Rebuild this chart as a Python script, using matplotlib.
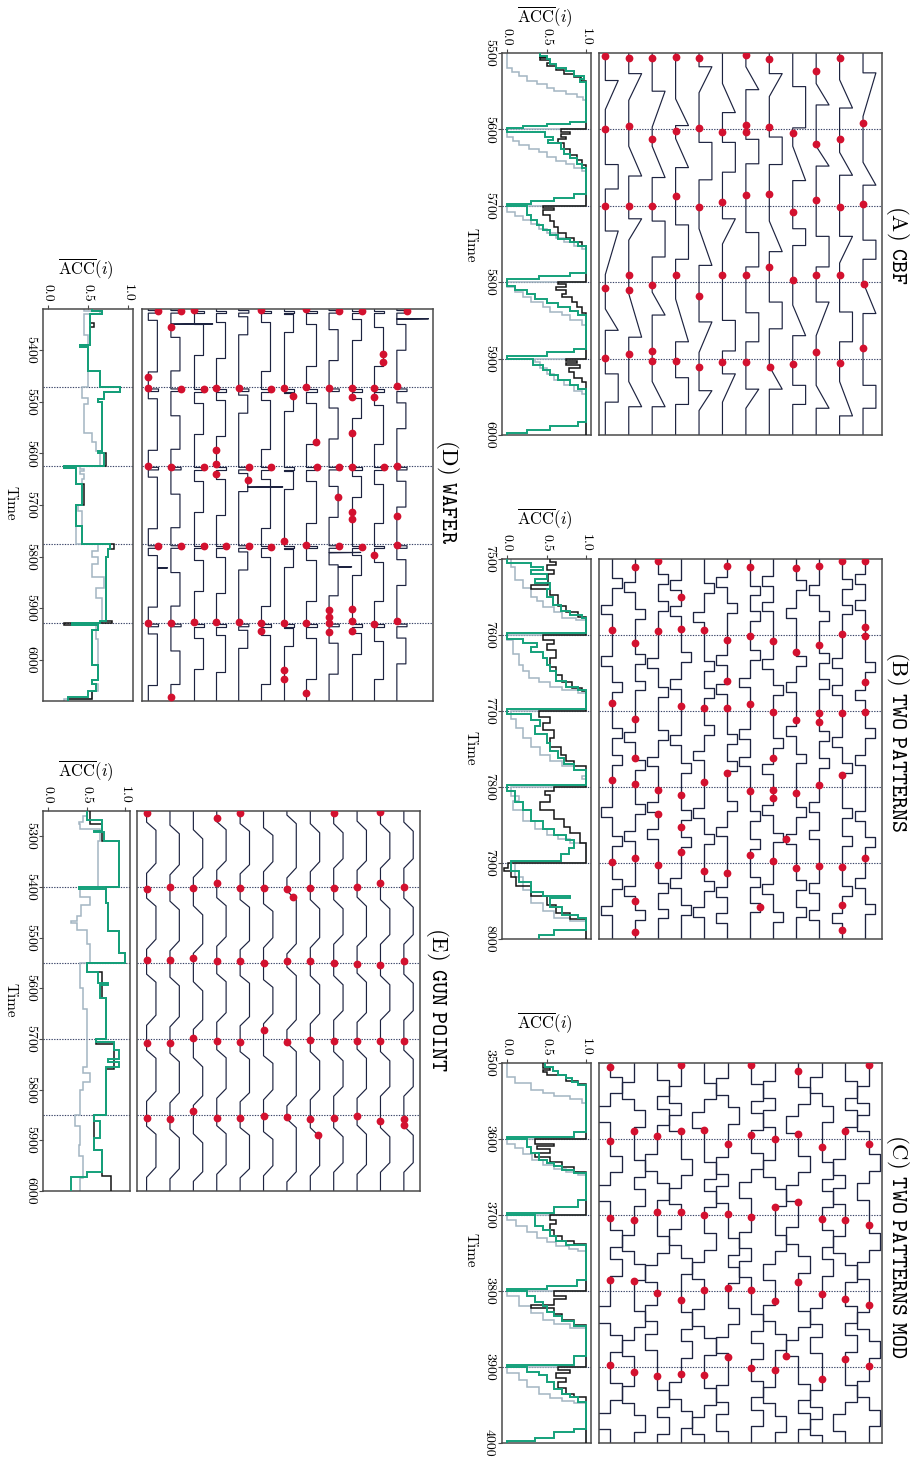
import numpy as np
import matplotlib
matplotlib.use("Agg")
import matplotlib.pyplot as plt

plt.rcParams.update({
    "font.family": "cmr10",
    "mathtext.fontset": "cm",
    "axes.formatter.use_mathtext": True,
    "axes.unicode_minus": False,
})

W, H = 916, 1462
NAVY = "#1d2340"
RED = "#d3112f"
GREEN = "#14a17b"
GRAY = "#a3b5c2"
BLACK = "#141414"
DOTC = "#3a4468"
FRAME = "#4a4a4a"

# ---------------------------------------------------------------- (A) CBF
A_T = (5500, 6000)
A_BOUNDS = [5600, 5700, 5800, 5900]
A_TICKS = [5500, 5600, 5700, 5800, 5900, 6000]
A_AMP = 0.55
# (kind, start, end): c = cylinder, b = bell, f = funnel
A_SHAPES = [
    [("f", 5536, 5574), ("c", 5646, 5678), ("f", 5733, 5790), ("b", 5835, 5863), ("c", 5920, 5957)],
    [("f", 5527, 5562), ("b", 5622, 5661), ("f", 5717, 5745), ("b", 5815, 5872), ("b", 5930, 5963)],
    [("f", 5550, 5597), ("b", 5622, 5663), ("c", 5720, 5767), ("b", 5813, 5843), ("b", 5930, 5963)],
    [("b", 5560, 5595), ("b", 5612, 5650), ("c", 5725, 5770), ("b", 5822, 5878), ("c", 5925, 5960)],
    [("f", 5518, 5552), ("c", 5617, 5666), ("b", 5730, 5778), ("f", 5852, 5892), ("f", 5942, 5968)],
    [("b", 5540, 5578), ("c", 5617, 5656), ("f", 5717, 5750), ("c", 5850, 5890), ("f", 5920, 5957)],
    [("b", 5518, 5548), ("c", 5613, 5645), ("c", 5735, 5780), ("c", 5840, 5878), ("f", 5940, 5965)],
    [("f", 5527, 5557), ("c", 5610, 5646), ("b", 5720, 5760), ("c", 5826, 5861), ("b", 5910, 5940)],
    [("c", 5544, 5598), ("b", 5622, 5667), ("c", 5730, 5752), ("b", 5830, 5870), ("c", 5935, 5960)],
    [("b", 5540, 5568), ("b", 5622, 5648), ("c", 5740, 5780), ("f", 5826, 5870), ("b", 5935, 5965)],
    [("b", 5535, 5572), ("b", 5630, 5660), ("f", 5740, 5775), ("c", 5839, 5878), ("b", 5930, 5975)],
    [("f", 5526, 5583), ("b", 5643, 5673), ("c", 5745, 5770), ("b", 5800, 5841), ("c", 5935, 5965)],
]
A_DOTS = [
    [5504, 5600, 5700, 5807, 5899],
    [5507, 5595, 5700, 5790, 5810, 5894],
    [5506, 5612, 5700, 5804, 5890, 5903],
    [5505, 5602, 5687, 5791, 5903],
    [5507, 5598, 5702, 5818, 5911],
    [5604, 5695, 5791, 5904],
    [5503, 5594, 5604, 5686, 5791, 5904],
    [5508, 5597, 5685, 5780, 5911],
    [5605, 5708, 5797, 5907],
    [5523, 5619, 5692, 5790, 5892],
    [5506, 5613, 5701, 5790, 5906],
    [5591, 5698, 5803, 5886],
]
A_GRAY = [(5500, 0.0), (5520, 0.07), (5525, 0.15), (5530, 0.25), (5536, 0.38), (5541, 0.5), (5546, 0.6),
          (5550, 0.75), (5554, 0.88), (5558, 0.96), (5562, 1.0),
          (5600, 0.0), (5610, 0.08), (5615, 0.15), (5620, 0.28), (5625, 0.4), (5630, 0.5), (5636, 0.62),
          (5641, 0.75), (5645, 0.85), (5650, 0.95), (5655, 1.0),
          (5700, 0.0), (5708, 0.1), (5713, 0.2), (5718, 0.3), (5724, 0.4), (5730, 0.5), (5736, 0.62),
          (5742, 0.72), (5748, 0.85), (5752, 0.95), (5757, 1.0),
          (5800, 0.0), (5806, 0.1), (5813, 0.2), (5819, 0.3), (5826, 0.45), (5832, 0.55), (5839, 0.7),
          (5843, 0.8), (5850, 0.95), (5856, 1.0),
          (5900, 0.35), (5905, 0.42), (5912, 0.5), (5920, 0.6), (5928, 0.72), (5935, 0.85), (5942, 0.95),
          (5946, 1.0)]
A_BLACK = [(5500, 0.42), (5505, 0.5), (5507, 0.42), (5509, 0.55), (5513, 0.5), (5517, 0.62), (5522, 0.72),
           (5527, 0.85), (5531, 0.93), (5536, 1.0),
           (5600, 0.68), (5604, 0.8), (5606, 0.68), (5610, 0.75), (5613, 0.65), (5618, 0.72), (5626, 0.8),
           (5633, 0.88), (5640, 0.95), (5646, 1.0),
           (5700, 0.45), (5703, 0.6), (5705, 0.45), (5712, 0.55), (5720, 0.6), (5728, 0.65), (5735, 0.75),
           (5742, 0.85), (5748, 0.95), (5752, 1.0),
           (5800, 0.65), (5803, 0.75), (5806, 0.62), (5810, 0.75), (5815, 0.7), (5820, 0.82), (5826, 0.88),
           (5832, 0.95), (5840, 1.0),
           (5900, 0.75), (5903, 0.88), (5906, 0.75), (5909, 0.92), (5912, 0.78), (5918, 0.85), (5925, 0.95),
           (5930, 1.0)]
A_GREEN = [(5500, 0.42), (5504, 0.5), (5508, 0.55), (5514, 0.62), (5519, 0.75), (5524, 0.85), (5530, 0.97),
           (5534, 0.92), (5538, 1.0), (5590, 0.8), (5593, 0.5), (5596, 0.2), (5598, 0.0),
           (5603, 0.48), (5610, 0.58), (5614, 0.52), (5618, 0.68), (5625, 0.72), (5632, 0.8), (5638, 0.88),
           (5645, 0.95), (5650, 1.0), (5685, 0.85), (5690, 0.6), (5694, 0.3), (5697, 0.0),
           (5700, 0.25), (5712, 0.3), (5718, 0.38), (5725, 0.46), (5732, 0.55), (5738, 0.65), (5743, 0.8),
           (5748, 0.9), (5752, 1.0), (5788, 0.8), (5792, 0.4), (5796, 0.0),
           (5805, 0.1), (5810, 0.25), (5816, 0.35), (5822, 0.5), (5827, 0.65), (5833, 0.8), (5838, 0.9),
           (5843, 1.0), (5888, 0.85), (5892, 0.5), (5896, 0.0),
           (5900, 0.33), (5908, 0.45), (5915, 0.55), (5922, 0.65), (5928, 0.8), (5934, 0.9), (5940, 1.0),
           (5983, 0.9), (5988, 0.55), (5993, 0.25), (5997, 0.0)]

# ---------------------------------------------------------------- (B) TWO PATTERNS
B_T = (7500, 8000)
B_BOUNDS = [7600, 7700, 7800, 7900]
B_TICKS = [7500, 7600, 7700, 7800, 7900, 8000]
B_AMP = 0.45
B_WIDTH = 13
B_PULSES = [
    [(1, 7525), (-1, 7560), (-1, 7628), (1, 7662), (1, 7722), (1, 7758), (-1, 7826), (1, 7864), (1, 7921), (-1, 7956)],
    [(-1, 7530), (1, 7566), (1, 7625), (1, 7660), (-1, 7728), (1, 7765), (1, 7822), (-1, 7858), (-1, 7930), (1, 7962)],
    [(1, 7520), (1, 7555), (-1, 7630), (1, 7668), (1, 7725), (-1, 7760), (-1, 7820), (-1, 7855), (1, 7926), (1, 7960)],
    [(-1, 7528), (-1, 7562), (1, 7622), (-1, 7658), (-1, 7732), (1, 7768), (1, 7830), (1, 7866), (-1, 7920), (1, 7955)],
    [(1, 7532), (-1, 7570), (1, 7634), (1, 7670), (1, 7718), (-1, 7752), (-1, 7828), (1, 7862), (1, 7924), (-1, 7958)],
    [(-1, 7524), (1, 7558), (-1, 7626), (-1, 7664), (1, 7730), (1, 7766), (1, 7818), (-1, 7852), (-1, 7932), (-1, 7966)],
    [(1, 7535), (1, 7568), (1, 7620), (-1, 7656), (-1, 7724), (-1, 7760), (1, 7832), (1, 7868), (1, 7918), (1, 7952)],
    [(-1, 7522), (-1, 7556), (-1, 7632), (1, 7666), (1, 7736), (-1, 7770), (-1, 7824), (1, 7860), (-1, 7928), (1, 7964)],
    [(1, 7528), (-1, 7564), (1, 7628), (-1, 7662), (-1, 7720), (1, 7756), (1, 7826), (-1, 7862), (1, 7922), (1, 7958)],
    [(-1, 7534), (1, 7568), (1, 7624), (1, 7658), (1, 7726), (1, 7762), (-1, 7820), (-1, 7856), (-1, 7926), (-1, 7962)],
    [(1, 7526), (1, 7560), (-1, 7630), (-1, 7666), (-1, 7734), (1, 7768), (1, 7828), (1, 7864), (1, 7930), (-1, 7966)],
    [(-1, 7520), (-1, 7554), (1, 7636), (-1, 7672), (1, 7722), (-1, 7758), (-1, 7832), (1, 7866), (-1, 7920), (1, 7954)],
]
B_DOTS = [
    [7594, 7689, 7791, 7899],
    [7511, 7611, 7710, 7762, 7796, 7893, 7950, 7991],
    [7503, 7595, 7804, 7836, 7903],
    [7550, 7592, 7694, 7811, 7853, 7886],
    [7594, 7696, 7793, 7910],
    [7509, 7607, 7661, 7696, 7782, 7913],
    [7511, 7601, 7691, 7805, 7889, 7958],
    [7608, 7701, 7762, 7804, 7814, 7898],
    [7512, 7622, 7712, 7808, 7869, 7906],
    [7509, 7613, 7703, 7714, 7798, 7904],
    [7503, 7599, 7703, 7784, 7905, 7955, 7988],
    [7503, 7590, 7601, 7662, 7701, 7894],
]
B_GRAY = [(7500, 0.05), (7510, 0.1), (7527, 0.2), (7538, 0.3), (7550, 0.38), (7555, 0.45), (7563, 0.6),
          (7570, 0.7), (7577, 0.87), (7580, 1.0),
          (7600, 0.0), (7607, 0.08), (7625, 0.15), (7640, 0.2), (7648, 0.28), (7656, 0.4), (7662, 0.55),
          (7669, 0.7), (7673, 0.9), (7676, 1.0),
          (7700, 0.05), (7710, 0.12), (7722, 0.2), (7735, 0.3), (7748, 0.42), (7758, 0.55), (7766, 0.7),
          (7772, 0.85), (7777, 1.0), (7785, 0.95), (7790, 1.0),
          (7800, 0.05), (7812, 0.15), (7818, 0.08), (7830, 0.2), (7845, 0.35), (7855, 0.5), (7863, 0.65),
          (7868, 0.8), (7874, 1.0),
          (7900, 0.1), (7918, 0.2), (7935, 0.3), (7952, 0.45), (7963, 0.6), (7972, 0.8), (7976, 1.0)]
B_BLACK = [(7500, 0.55), (7504, 0.62), (7508, 0.5), (7514, 0.6), (7520, 0.52), (7534, 0.3), (7540, 0.55),
           (7548, 0.65), (7562, 0.75), (7570, 0.9), (7576, 1.0),
           (7600, 0.45), (7606, 0.6), (7612, 0.5), (7620, 0.62), (7630, 0.55), (7642, 0.62), (7652, 0.7),
           (7662, 0.82), (7670, 0.95), (7674, 1.0),
           (7700, 0.4), (7708, 0.55), (7716, 0.45), (7725, 0.6), (7735, 0.55), (7748, 0.68), (7758, 0.75),
           (7766, 0.85), (7773, 1.0),
           (7800, 0.6), (7805, 0.48), (7810, 0.55), (7820, 0.42), (7830, 0.6), (7842, 0.72), (7852, 0.8),
           (7860, 0.92), (7874, 1.0),
           (7900, 0.02), (7906, -0.04), (7911, 0.05), (7918, 0.12), (7930, 0.3), (7943, 0.5), (7955, 0.62),
           (7966, 0.8), (7974, 1.0)]
B_GREEN = [(7500, 0.0), (7505, 0.3), (7510, 0.45), (7514, 0.3), (7520, 0.5), (7526, 0.35), (7532, 0.55),
           (7540, 0.5), (7550, 0.58), (7560, 0.68), (7568, 0.8), (7574, 0.95), (7578, 1.0), (7597, 0.0),
           (7605, 0.2), (7610, 0.38), (7616, 0.3), (7622, 0.45), (7630, 0.5), (7640, 0.55), (7648, 0.62),
           (7660, 0.75), (7668, 0.9), (7673, 1.0), (7697, 0.0),
           (7704, 0.3), (7712, 0.42), (7720, 0.35), (7730, 0.5), (7742, 0.55), (7752, 0.65), (7762, 0.72),
           (7770, 0.85), (7778, 1.0), (7797, 0.0),
           (7805, 0.1), (7820, 0.2), (7830, 0.3), (7845, 0.45), (7855, 0.6), (7863, 0.75), (7870, 0.85),
           (7880, 0.78), (7888, 0.68), (7897, 0.05),
           (7910, 0.15), (7925, 0.3), (7938, 0.45), (7943, 0.8), (7946, 0.55), (7958, 0.7), (7968, 0.9),
           (7973, 1.0), (7988, 0.6), (7995, 0.4)]

# ---------------------------------------------------------------- (C) TWO PATTERNS MOD
C_T = (3500, 4000)
C_BOUNDS = [3600, 3700, 3800, 3900]
C_TICKS = [3500, 3600, 3700, 3800, 3900, 4000]
C_AMP = 0.5
C_WIDTH = 22
C_PULSES = [
    [(1, 3518), (-1, 3556), (1, 3622), (-1, 3660), (1, 3720), (1, 3758), (-1, 3820), (1, 3858), (1, 3921), (-1, 3960)],
    [(-1, 3525), (1, 3562), (1, 3628), (1, 3666), (-1, 3726), (1, 3764), (1, 3826), (-1, 3864), (-1, 3925), (1, 3963)],
    [(1, 3522), (1, 3560), (-1, 3620), (1, 3658), (1, 3728), (-1, 3766), (-1, 3818), (-1, 3856), (1, 3930), (1, 3966)],
    [(-1, 3530), (-1, 3568), (1, 3626), (-1, 3664), (-1, 3718), (1, 3756), (1, 3828), (1, 3866), (-1, 3920), (1, 3958)],
    [(1, 3526), (-1, 3564), (1, 3630), (1, 3668), (1, 3724), (-1, 3762), (-1, 3824), (1, 3862), (1, 3928), (-1, 3966)],
    [(-1, 3520), (1, 3558), (-1, 3624), (-1, 3662), (1, 3730), (1, 3768), (1, 3822), (-1, 3860), (-1, 3924), (-1, 3962)],
    [(1, 3528), (1, 3566), (1, 3618), (-1, 3656), (-1, 3722), (-1, 3760), (1, 3830), (1, 3868), (1, 3918), (1, 3956)],
    [(-1, 3524), (-1, 3562), (-1, 3628), (1, 3666), (1, 3726), (-1, 3764), (-1, 3818), (1, 3856), (-1, 3926), (1, 3964)],
    [(1, 3532), (-1, 3570), (1, 3622), (-1, 3660), (-1, 3716), (1, 3754), (1, 3826), (-1, 3864), (1, 3922), (1, 3960)],
    [(-1, 3518), (1, 3556), (1, 3630), (1, 3668), (1, 3720), (1, 3758), (-1, 3822), (-1, 3860), (-1, 3930), (-1, 3968)],
    [(1, 3524), (1, 3562), (-1, 3626), (-1, 3664), (-1, 3728), (1, 3766), (1, 3820), (1, 3858), (1, 3924), (-1, 3962)],
    [(-1, 3530), (-1, 3568), (1, 3620), (-1, 3658), (1, 3724), (-1, 3762), (-1, 3828), (1, 3866), (-1, 3918), (1, 3956)],
]
C_DOTS = [
    [3505, 3603, 3704, 3786, 3897],
    [3589, 3707, 3787, 3907],
    [3596, 3696, 3802, 3912],
    [3503, 3590, 3696, 3812, 3909],
    [3588, 3700, 3799, 3911],
    [3606, 3699, 3796, 3887],
    [3502, 3595, 3703, 3799, 3901],
    [3600, 3690, 3813, 3904],
    [3510, 3593, 3683, 3788, 3885],
    [3611, 3705, 3804, 3916],
    [3589, 3706, 3810, 3890],
    [3502, 3607, 3713, 3819, 3899],
]
C_GRAY = [(3500, 0.0), (3518, 0.1), (3526, 0.3), (3535, 0.45), (3540, 0.6), (3544, 0.8), (3547, 0.95), (3552, 1.0),
          (3600, 0.0), (3606, 0.1), (3612, 0.2), (3620, 0.32), (3628, 0.45), (3634, 0.6), (3639, 0.75),
          (3643, 0.9), (3647, 1.0),
          (3700, 0.0), (3706, 0.12), (3714, 0.25), (3722, 0.38), (3730, 0.5), (3736, 0.62), (3741, 0.78),
          (3745, 0.9), (3748, 1.0),
          (3800, 0.0), (3806, 0.15), (3820, 0.3), (3829, 0.45), (3838, 0.6), (3844, 0.8), (3849, 1.0),
          (3900, 0.0), (3908, 0.15), (3917, 0.25), (3926, 0.4), (3935, 0.55), (3941, 0.7), (3945, 0.85),
          (3948, 1.0)]
C_BLACK = [(3500, 0.45), (3506, 0.55), (3509, 0.45), (3512, 0.5), (3516, 0.75), (3524, 0.9), (3527, 1.0),
           (3600, 0.35), (3606, 0.6), (3609, 0.38), (3613, 0.55), (3618, 0.35), (3624, 0.55), (3630, 0.7),
           (3637, 0.85), (3643, 1.0),
           (3700, 0.55), (3706, 0.62), (3712, 0.55), (3720, 0.6), (3728, 0.7), (3734, 0.85), (3738, 1.0),
           (3800, 0.6), (3806, 0.75), (3810, 0.6), (3818, 0.3), (3822, 0.6), (3830, 0.7), (3838, 0.85),
           (3845, 1.0),
           (3900, 0.65), (3904, 0.8), (3908, 0.62), (3914, 0.75), (3920, 0.65), (3928, 0.75), (3935, 0.85),
           (3940, 1.0)]
C_GREEN = [(3500, 0.48), (3505, 0.58), (3510, 0.65), (3516, 0.75), (3520, 0.82), (3525, 0.9), (3529, 1.0),
           (3591, 0.85), (3597, 0.0),
           (3600, 0.25), (3610, 0.3), (3619, 0.4), (3628, 0.5), (3632, 0.6), (3636, 0.7), (3641, 0.85),
           (3645, 1.0), (3680, 0.9), (3690, 0.6), (3697, 0.0),
           (3700, 0.35), (3715, 0.45), (3720, 0.55), (3728, 0.62), (3734, 0.75), (3740, 1.0), (3785, 0.88),
           (3793, 0.5), (3798, 0.0),
           (3800, 0.25), (3807, 0.35), (3814, 0.45), (3820, 0.5), (3827, 0.6), (3833, 0.7), (3840, 0.85),
           (3846, 1.0), (3886, 0.85), (3897, 0.0),
           (3900, 0.25), (3906, 0.4), (3911, 0.5), (3920, 0.6), (3929, 0.7), (3935, 0.8), (3940, 0.9),
           (3946, 1.0), (3981, 0.85), (3985, 0.6), (3993, 0.35), (3998, 0.0)]

# ---------------------------------------------------------------- (D) WAFER
D_T = (5320, 6080)
D_BOUNDS = [5472, 5624, 5776, 5928]
D_SEG = [5320, 5472, 5624, 5776, 5928]
D_TICKS = [5400, 5500, 5600, 5700, 5800, 5900, 6000]
D_HOOK = 0.45
D_LEVEL = 0.4
# high plateau (start, end) inside each 152-step segment
D_HIGH = [(22, 122), (55, 120), (30, 90), (25, 95), (15, 50), (25, 120),
          (10, 45), (30, 110), (40, 100), (20, 60), (35, 110), (30, 80)]
# isolated spikes: (series, time, size)
D_SPIKES = [(1, 5349, 1.85), (11, 5339, 1.4), (4, 5665, 1.55), (8, 5792, 1.4), (8, 5820, 0.6), (0, 5822, 0.45)]
D_DOTS = [
    [5323, 5451, 5474, 5624, 5779, 5928],
    [5324, 5354, 5475, 5626, 5779, 5929, 6073],
    [5321, 5475, 5627, 5779, 5927],
    [5474, 5594, 5620, 5640, 5780, 5927],
    [5474, 5627, 5652, 5780, 5927],
    [5321, 5475, 5627, 5781, 5929, 5945],
    [5473, 5489, 5769, 5929, 6019, 6038],
    [5320, 5471, 5578, 5627, 5778, 5929, 6064],
    [5324, 5474, 5627, 5684, 5780, 5903, 5917, 5929, 5946],
    [5323, 5473, 5491, 5560, 5626, 5713, 5727, 5781, 5902, 5924, 5944],
    [5408, 5422, 5474, 5490, 5627, 5797, 5930],
    [5324, 5469, 5624, 5721, 5777, 5925],
]
D_GRAY = [(5320, 0.45), (5324, 0.65), (5330, 0.45), (5370, 0.5), (5472, 0.42), (5492, 0.5), (5505, 0.45),
          (5560, 0.55), (5578, 0.6), (5595, 0.65), (5624, 0.4), (5630, 0.45), (5634, 0.4), (5640, 0.45),
          (5650, 0.42), (5700, 0.38), (5712, 0.42), (5740, 0.35), (5776, 0.62), (5790, 0.55), (5800, 0.62),
          (5815, 0.55), (5840, 0.7), (5860, 0.6), (5880, 0.68), (5928, 0.6), (5960, 0.62), (6040, 0.55),
          (6048, 0.62), (6060, 0.55), (6076, 0.2)]
D_BLACK = [(5320, 0.55), (5324, 0.68), (5330, 0.52), (5348, 0.58), (5354, 0.52), (5390, 0.4), (5393, 0.5),
           (5440, 0.65), (5472, 0.9), (5480, 0.7), (5495, 0.62), (5500, 0.68), (5600, 0.72), (5624, 0.2),
           (5628, 0.35), (5660, 0.45), (5700, 0.35), (5740, 0.42), (5776, 0.82), (5786, 0.75), (5800, 0.72),
           (5924, 0.8), (5928, 0.2), (5932, 0.62), (5942, 0.55), (6010, 0.62), (6040, 0.55), (6048, 0.6),
           (6060, 0.55), (6076, 0.25)]
D_GREEN = [(5320, 0.55), (5324, 0.68), (5330, 0.52), (5390, 0.4), (5393, 0.5), (5440, 0.65), (5472, 0.9),
           (5480, 0.7), (5495, 0.62), (5500, 0.68), (5595, 0.62), (5600, 0.7), (5624, 0.2), (5628, 0.35),
           (5660, 0.42), (5700, 0.35), (5740, 0.42), (5776, 0.78), (5786, 0.75), (5800, 0.72), (5924, 0.65),
           (5928, 0.3), (5932, 0.62), (5942, 0.55), (6010, 0.62), (6040, 0.55), (6048, 0.6), (6060, 0.5),
           (6072, 0.25)]

# ---------------------------------------------------------------- (E) GUN POINT
E_T = (5250, 6000)
E_BOUNDS = [5400, 5550, 5700, 5850]
E_SEG = [5250, 5400, 5550, 5700, 5850]
E_TICKS = [5300, 5400, 5500, 5600, 5700, 5800, 5900, 6000]
E_AMP = 0.4
# (rise start, rise end, fall start, fall end) inside each 150-step segment
E_BUMPS = [(22, 38, 103, 123), (28, 45, 106, 126), (37, 55, 112, 131), (21, 37, 98, 117),
           (25, 40, 106, 124), (33, 48, 100, 120), (8, 25, 112, 132), (25, 43, 100, 120),
           (25, 43, 94, 113), (20, 38, 98, 117), (25, 43, 94, 113), (22, 40, 94, 113)]
E_DOTS = [
    [5253, 5403, 5544, 5707, 5855],
    [5400, 5544, 5707, 5857],
    [5402, 5541, 5699, 5843],
    [5263, 5393, 5547, 5703, 5855],
    [5253, 5401, 5547, 5706, 5855],
    [5401, 5550, 5683, 5851],
    [5404, 5419, 5547, 5706, 5854],
    [5401, 5547, 5702, 5857, 5889],
    [5253, 5402, 5550, 5704, 5856],
    [5400, 5551, 5704, 5851],
    [5252, 5393, 5553, 5703, 5861],
    [5400, 5547, 5703, 5857, 5870],
]
E_GRAY = [(5250, 0.5), (5260, 0.45), (5272, 0.4), (5276, 0.42), (5285, 0.68), (5310, 0.65),
          (5400, 0.42), (5420, 0.55), (5436, 0.43), (5458, 0.38), (5468, 0.3), (5472, 0.38), (5485, 0.5),
          (5512, 0.55), (5550, 0.42), (5600, 0.45), (5640, 0.5), (5700, 0.5), (5755, 0.45), (5768, 0.55),
          (5784, 0.45), (5800, 0.42), (5850, 0.35), (5872, 0.42), (5910, 0.4), (5930, 0.45), (5975, 0.42)]
E_BLACK = [(5250, 0.55), (5275, 0.7), (5310, 0.92), (5400, 0.75), (5432, 0.78), (5486, 0.92),
           (5530, 1.0), (5550, 0.5), (5568, 0.7), (5620, 0.75), (5700, 0.62), (5710, 0.85), (5760, 0.75),
           (5850, 0.6), (5920, 0.7), (5970, 0.82)]
E_GREEN = [(5250, 0.5), (5268, 0.7), (5290, 0.6), (5292, 0.72), (5310, 0.92), (5400, 0.4), (5404, 0.75),
           (5432, 0.78), (5486, 0.92), (5530, 1.0), (5550, 0.5), (5568, 0.65), (5590, 0.78), (5594, 0.68),
           (5620, 0.75), (5700, 0.62), (5705, 0.85), (5722, 0.92), (5740, 0.78), (5745, 0.92), (5755, 0.75),
           (5850, 0.6), (5862, 0.68), (5896, 0.6), (5920, 0.7), (5962, 0.5), (5972, 0.3)]


# ---------------------------------------------------------------- series builders
def cbf_series(shapes, t0, t1, amp):
    pts = [(t0, 0.0)]
    for kind, a, b in shapes:
        if kind == "c":
            pts += [(a, 0.0), (a, amp), (b, amp), (b, 0.0)]
        elif kind == "b":
            pts += [(a, 0.0), (b, amp), (b, 0.0)]
        else:
            pts += [(a, 0.0), (a, amp), (b, 0.0)]
    pts.append((t1, 0.0))
    t, v = zip(*pts)
    return np.array(t, float), np.array(v, float)


def pulse_series(pulses, t0, t1, amp, width):
    pts = [(t0, 0.0)]
    for sign, a in sorted(pulses, key=lambda p: p[1]):
        pts += [(a, 0.0), (a, sign * amp), (a + width, sign * amp), (a + width, 0.0)]
    pts.append((t1, 0.0))
    t, v = zip(*pts)
    return np.array(t, float), np.array(v, float)


def wafer_series(high, seg_starts, t1, hook, level):
    h0, h1 = high
    pts = []
    for s in seg_starts:
        pts += [(s, 0.0), (s + 3, 0.0), (s + 3, hook), (s + 8, hook), (s + 8, 0.0),
                (s + h0, 0.0), (s + h0, level), (s + h1, level), (s + h1, 0.0)]
    pts.append((t1, 0.0))
    t, v = zip(*pts)
    return np.array(t, float), np.array(v, float)


def gun_series(bump, seg_starts, t1, amp):
    r0, r1, f0, f1 = bump
    pts = []
    for s in seg_starts:
        pts += [(s, 0.0), (s + r0, 0.0), (s + r1, amp), (s + f0, amp), (s + f1, 0.0)]
    pts.append((t1, 0.0))
    t, v = zip(*pts)
    return np.array(t, float), np.array(v, float)


def add_spike(t, v, ts, dv):
    base = np.interp(ts, t, v)
    k = np.searchsorted(t, ts)
    t = np.insert(t, k, [ts, ts, ts + 0.8])
    v = np.insert(v, k, [base, base + dv, base])
    return t, v


def step_xy(pairs, t_end):
    xs, ys = [], []
    for k, (t, v) in enumerate(pairs):
        nxt = pairs[k + 1][0] if k + 1 < len(pairs) else t_end
        xs += [v, v]
        ys += [t, nxt]
    return xs, ys


# ---------------------------------------------------------------- drawing
fig = plt.figure(figsize=(W / 100, H / 100), dpi=100)


def rect(x0, y0, x1, y1):
    return [x0 / W, 1 - y1 / H, (x1 - x0) / W, (y1 - y0) / H]


def ftext(x, y, s, **kw):
    fig.text(x / W, 1 - y / H, s, **kw)


def style_frame(ax):
    for sp in ax.spines.values():
        sp.set_color(FRAME)
        sp.set_linewidth(1.1)


def panel(acc_box, main_box, trange, bounds, ticks, xlim, lines, dots, gray, black, green,
          title, title_xy, time_xy, acc_xy, lw=0.85):
    t0, t1 = trange
    ax = fig.add_axes(rect(*main_box))
    for b in bounds:
        ax.axhline(b, color=DOTC, ls=(0, (1.2, 1.2)), lw=0.8, zorder=1)
    for i, (t, v) in enumerate(lines):
        ax.plot(i + v, t, color=NAVY, lw=lw, zorder=2)
    for i, (t, v) in enumerate(lines):
        for td in dots[i]:
            ax.plot(i + np.interp(td, t, v), td, "o", color=RED, ms=5.6, mec="none", zorder=3)
    ax.set_xlim(*xlim)
    ax.set_ylim(t1, t0)
    ax.set_xticks([])
    ax.set_yticks([])
    style_frame(ax)

    ac = fig.add_axes(rect(*acc_box))
    for b in bounds:
        ac.axhline(b, color=DOTC, ls=(0, (1.2, 1.2)), lw=0.8, zorder=1)
    for pairs, col, w, z in ((gray, GRAY, 1.1, 2), (black, BLACK, 1.1, 3), (green, GREEN, 1.4, 4)):
        xs, ys = step_xy(pairs, t1)
        ac.plot(xs, ys, color=col, lw=w, zorder=z, solid_joinstyle="miter")
    ac.set_xlim(-0.06, 1.06)
    ac.set_ylim(t1, t0)
    ac.xaxis.tick_top()
    ac.set_xticks([0.0, 0.5, 1.0])
    ac.set_xticklabels(["0.0", "0.5", "1.0"], rotation=-90, va="bottom", ha="center")
    ac.set_yticks(ticks)
    ac.set_yticklabels([str(k) for k in ticks], rotation=-90, va="center", ha="right")
    ac.tick_params(axis="both", direction="out", length=3, width=0.8, labelsize=10,
                   color=FRAME, pad=2)
    style_frame(ac)

    ftext(*title_xy, title, rotation=-90, ha="center", va="center", fontsize=16.5)
    ftext(*time_xy, "Time", rotation=-90, ha="center", va="center", fontsize=11)
    ftext(*acc_xy, r"$\overline{\mathrm{ACC}}(i)$", ha="center", va="center", fontsize=12)


A_LINES = [cbf_series(s, *A_T, A_AMP) for s in A_SHAPES]
B_LINES = [pulse_series(p, *B_T, B_AMP, B_WIDTH) for p in B_PULSES]
C_LINES = [pulse_series(p, *C_T, C_AMP, C_WIDTH) for p in C_PULSES]
D_LINES = [wafer_series(h, D_SEG, D_T[1], D_HOOK, D_LEVEL) for h in D_HIGH]
for idx, ts, dv in D_SPIKES:
    D_LINES[idx] = add_spike(*D_LINES[idx], ts, dv)
E_LINES = [gun_series(b, E_SEG, E_T[1], E_AMP) for b in E_BUMPS]

panel((502, 53, 591, 435), (599, 53, 882, 435), A_T, A_BOUNDS, A_TICKS, (-0.27, 11.81),
      A_LINES, A_DOTS, A_GRAY, A_BLACK, A_GREEN,
      r"(A) $\mathtt{CBF}$", (897, 245), (470, 245), (545, 17))
panel((502, 559, 591, 939), (599, 559, 882, 939), B_T, B_BOUNDS, B_TICKS, (-0.55, 11.74),
      B_LINES, B_DOTS, B_GRAY, B_BLACK, B_GREEN,
      r"(B) $\mathtt{TWO\ PATTERNS}$", (897, 742), (470, 748), (545, 519), lw=0.95)
panel((502, 1063, 591, 1443), (599, 1063, 882, 1443), C_T, C_BOUNDS, C_TICKS, (-0.47, 11.57),
      C_LINES, C_DOTS, C_GRAY, C_BLACK, C_GREEN,
      r"(C) $\mathtt{TWO\ PATTERNS\ MOD}$", (897, 1246), (470, 1250), (545, 1023), lw=0.95)
panel((43, 309, 133, 701), (142, 309, 433, 701), D_T, D_BOUNDS, D_TICKS, (-0.28, 12.6),
      D_LINES, D_DOTS, D_GRAY, D_BLACK, D_GREEN,
      r"(D) $\mathtt{WAFER}$", (447, 492), (10, 503), (86, 269))
panel((43, 811, 130, 1191), (137, 811, 420, 1191), E_T, E_BOUNDS, E_TICKS, (-0.41, 11.69),
      E_LINES, E_DOTS, E_GRAY, E_BLACK, E_GREEN,
      r"(E) $\mathtt{GUN\ POINT}$", (437, 1000), (10, 1000), (86, 771))

fig.savefig("out.png", dpi=100, facecolor="white")
